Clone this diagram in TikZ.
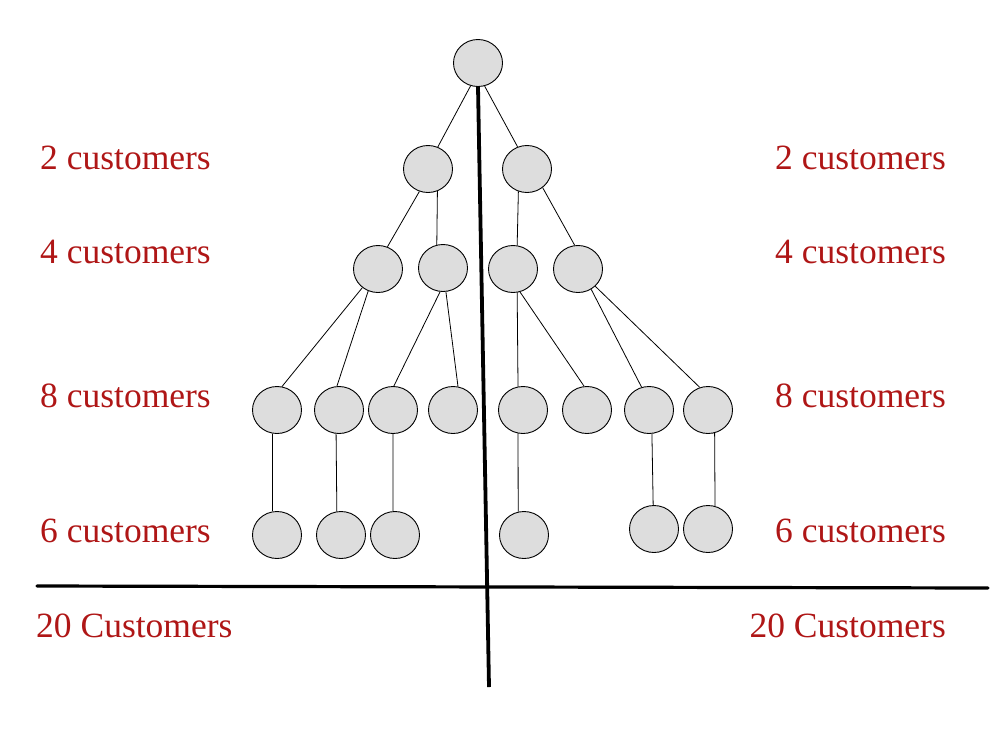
\documentclass[tikz,border=0pt]{standalone}
\usepackage{fontspec}
\setmainfont{Liberation Serif}
\usetikzlibrary{shapes.geometric}
\definecolor{lblred}{RGB}{175,22,22}
\definecolor{nodegray}{RGB}{221,221,221}
\tikzset{
  cust/.style={ellipse, draw=black, line width=0.9pt, fill=nodegray, minimum width=49pt, minimum height=47pt, inner sep=0pt},
  edge/.style={draw=black, line width=0.8pt},
  axis/.style={draw=black, line width=3.8pt},
  lbl/.style={text=lblred, font=\fontsize{35.5}{38}\selectfont, inner sep=0pt}
}
\begin{document}
\begin{tikzpicture}[x=1pt, y=-1pt]
\useasboundingbox (0,0) rectangle (1000,750);
% nodes
\node[cust] (R)  at (478,63) {};
\node[cust] (A)  at (428,169) {};
\node[cust] (B)  at (527,169) {};
\node[cust] (C1) at (378,269) {};
\node[cust] (C2) at (443,268) {};
\node[cust] (C3) at (513,269) {};
\node[cust] (C4) at (578,269) {};
\node[cust] (D1) at (277,410) {};
\node[cust] (D2) at (339,410) {};
\node[cust] (D3) at (393,410) {};
\node[cust] (D4) at (453,410) {};
\node[cust] (D5) at (523,410) {};
\node[cust] (D6) at (587,410) {};
\node[cust] (D7) at (649,410) {};
\node[cust] (D8) at (708,410) {};
\node[cust] (E1) at (277,535) {};
\node[cust] (E2) at (341,535) {};
\node[cust] (E3) at (395,535) {};
\node[cust] (E5) at (524,535) {};
\node[cust] (E7) at (654,529) {};
\node[cust] (E8) at (708,529) {};
% edges
\draw[edge] (R.252) -- (A.66);
\draw[edge] (R.286) -- (B.113);
\draw[edge] (A.249) -- (C1.67);
\draw[edge] (A.293) -- (C2.105);
\draw[edge] (B.249) -- (C3.80);
\draw[edge] (B.310) -- (C4.98);
\draw[edge] (C1.230) -- (D1.78);
\draw[edge] (C1.246) -- (D2.95);
\draw[edge] (C2.263) -- (D3.88);
\draw[edge] (C2.277) -- (D4.78);
\draw[edge] (C3.280) -- (D5.102);
\draw[edge] (C3.287) -- (D6.97);
\draw[edge] (C4.303) -- (D7.108);
\draw[edge] (C4.315) -- (D8.110);
\draw[edge] (D1.260) -- (E1.100);
\draw[edge] (D2.263) -- (E2.100);
\draw[edge] (D3.270) -- (E3.95);
\draw[edge] (D5.258) -- (E5.104);
\draw[edge] (D7.277) -- (E7.92);
\draw[edge] (D8.286) -- (E8.73);
% axes
\coordinate (vtop) at (R.south);
\coordinate (vbot) at (489,687);
\coordinate (hl) at (37,586);
\coordinate (hr) at (988,588);
\draw[axis] (vtop) -- (vbot);
\draw[axis, line width=3.2pt, line cap=round] (hl) -- (hr);
% labels
\node[lbl, anchor=base west] (l2)  at (40,169) {2 customers};
\node[lbl, anchor=base west] (l4)  at (40,263) {4 customers};
\node[lbl, anchor=base west] (l8)  at (40,407) {8 customers};
\node[lbl, anchor=base west] (l6)  at (40,542) {6 customers};
\node[lbl, anchor=base west] (l20) at (36,637) {20 Customers};
\node[lbl, anchor=base east] (r2)  at (946,169) {2 customers};
\node[lbl, anchor=base east] (r4)  at (946,263) {4 customers};
\node[lbl, anchor=base east] (r8)  at (946,407) {8 customers};
\node[lbl, anchor=base east] (r6)  at (946,542) {6 customers};
\node[lbl, anchor=base east] (r20) at (946,637) {20 Customers};
% small cut-off arc at bottom edge
\begin{scope}
\clip (0,0) rectangle (1000,750);
\draw[black, line width=1.5pt] (760,757) ++(150:10) arc[start angle=150, end angle=30, radius=10];
\end{scope}
\end{tikzpicture}
\end{document}
